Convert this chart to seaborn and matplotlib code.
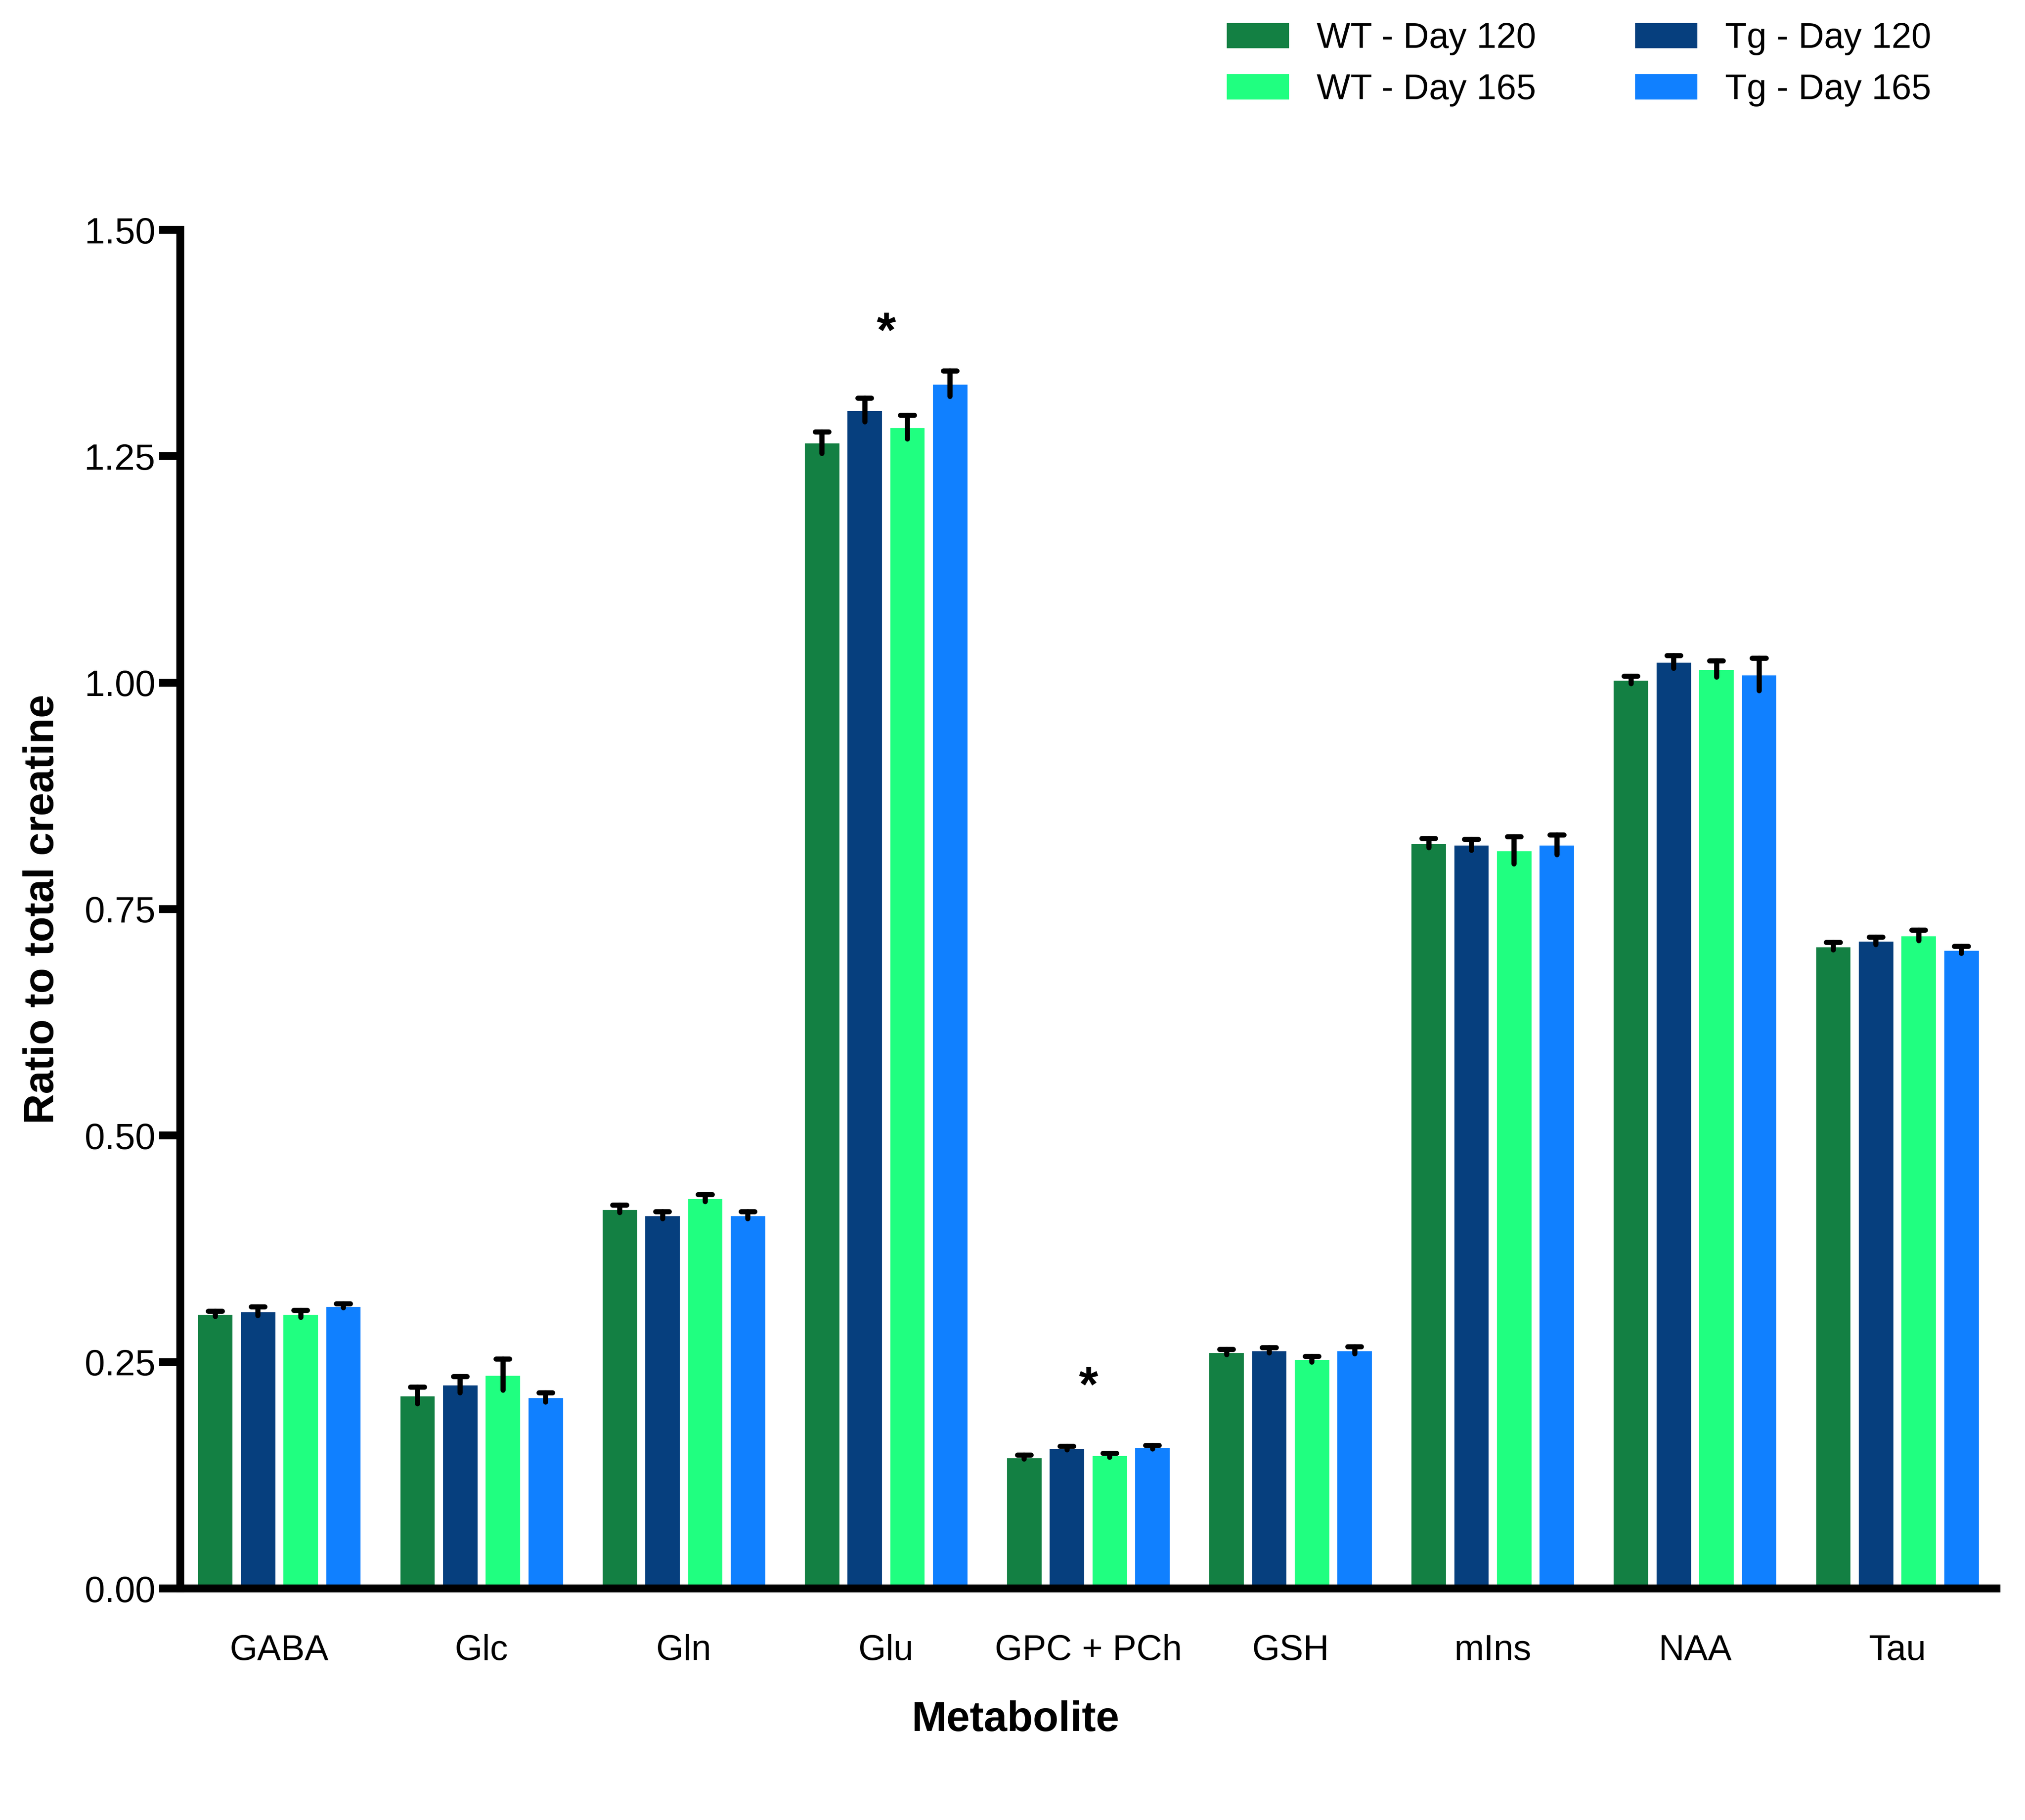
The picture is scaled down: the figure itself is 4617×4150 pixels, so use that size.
import pandas as pd
import matplotlib.pyplot as plt
import seaborn as sns

# Metabolite ratios to total creatine (mean and SEM)
metabolites = ['GABA', 'Glc', 'Gln', 'Glu', 'GPC + PCh', 'GSH', 'mIns', 'NAA', 'Tau']
groups = ['WT - Day 120', 'Tg - Day 120', 'WT - Day 165', 'Tg - Day 165']

wt120 = [0.303, 0.213, 0.419, 1.265, 0.145, 0.261, 0.823, 1.003, 0.709]
tg120 = [0.306, 0.225, 0.412, 1.301, 0.155, 0.263, 0.821, 1.023, 0.715]
wt165 = [0.303, 0.236, 0.431, 1.282, 0.147, 0.253, 0.815, 1.015, 0.721]
tg165 = [0.312, 0.211, 0.412, 1.330, 0.156, 0.263, 0.821, 1.009, 0.705]

wt120_err = [0.003, 0.009, 0.004, 0.012, 0.002, 0.003, 0.005, 0.004, 0.004]
tg120_err = [0.005, 0.009, 0.004, 0.013, 0.002, 0.003, 0.006, 0.007, 0.004]
wt165_err = [0.004, 0.017, 0.004, 0.013, 0.002, 0.003, 0.015, 0.009, 0.006]
tg165_err = [0.002, 0.005, 0.004, 0.014, 0.002, 0.004, 0.011, 0.018, 0.004]

# significance markers
sig_metabolites = ['Glu', 'GPC + PCh']
sig_y = [1.385, 0.221]

colors = ['#138043', '#063F7E', '#20FF80', '#1080FF']

means = [wt120, tg120, wt165, tg165]
errs = [wt120_err, tg120_err, wt165_err, tg165_err]

rows = []
for g, m in zip(groups, means):
    for met, v in zip(metabolites, m):
        rows.append({'Metabolite': met, 'group': g, 'ratio': v})
df = pd.DataFrame(rows)

sns.set_style('white')
plt.rcParams['font.family'] = ['Liberation Sans', 'DejaVu Sans']
plt.rcParams['text.color'] = 'black'
plt.rcParams['axes.labelcolor'] = 'black'
plt.rcParams['xtick.color'] = 'black'
plt.rcParams['ytick.color'] = 'black'

fig = plt.figure(figsize=(4617 / 300, 4150 / 300), dpi=300)
ax = fig.add_axes([411 / 4617, 1 - 3622 / 4150, (4552 - 411) / 4617, (3622 - 524) / 4150])

sns.barplot(data=df, x='Metabolite', y='ratio', hue='group', hue_order=groups,
            order=metabolites, palette=colors, saturation=1, width=0.845, gap=0.15,
            errorbar=None, legend=False, ax=ax, zorder=2)

# error bars: stem mean-err..mean+err, cap only on top
for cont, m, e in zip(ax.containers, means, errs):
    xs = [b.get_x() + b.get_width() / 2 for b in cont]
    lo = [a - b for a, b in zip(m, e)]
    hi = [a + b for a, b in zip(m, e)]
    ax.vlines(xs, lo, hi, color='black', linewidth=2.8, capstyle='round', zorder=3)
    ax.hlines(hi, [x - 0.034 for x in xs], [x + 0.034 for x in xs], color='black',
              linewidth=2.8, capstyle='round', zorder=3)

for met, y in zip(sig_metabolites, sig_y):
    ax.text(metabolites.index(met), y, '*', ha='center', va='center', fontsize=27,
            fontweight='bold')

ax.set_xlim(-0.49, 8.49)
ax.set_ylim(0, 1.5)
ax.set_yticks([0, 0.25, 0.5, 0.75, 1.0, 1.25, 1.5])
ax.set_yticklabels(['0.00', '0.25', '0.50', '0.75', '1.00', '1.25', '1.50'])
sns.despine(ax=ax)
for s in ['left', 'bottom']:
    ax.spines[s].set_linewidth(4.3)
    ax.spines[s].set_color('black')
ax.tick_params(axis='y', length=11.5, width=4.3, pad=2, labelsize=20, left=True)
ax.tick_params(axis='x', length=0, pad=25, labelsize=19.5)

ax.set_xlabel('Metabolite', fontsize=23, fontweight='bold', labelpad=18)
ax.xaxis.label.set_x(0.46)
ax.set_ylabel('Ratio to total creatine', fontsize=23, fontweight='bold', labelpad=12)

leg_handles = [ax.containers[0], ax.containers[2], ax.containers[1], ax.containers[3]]
leg_labels = [groups[0], groups[2], groups[1], groups[3]]
fig.legend(leg_handles, leg_labels, loc='upper left', bbox_to_anchor=(2795 / 4617, 1 - 50 / 4150),
           ncol=2, frameon=False, fontsize=19.5, handlelength=1.8, handleheight=0.8,
           handletextpad=0.75, columnspacing=2.75, labelspacing=0.5, borderpad=0, borderaxespad=0)

fig.savefig('out.png', dpi=300)
